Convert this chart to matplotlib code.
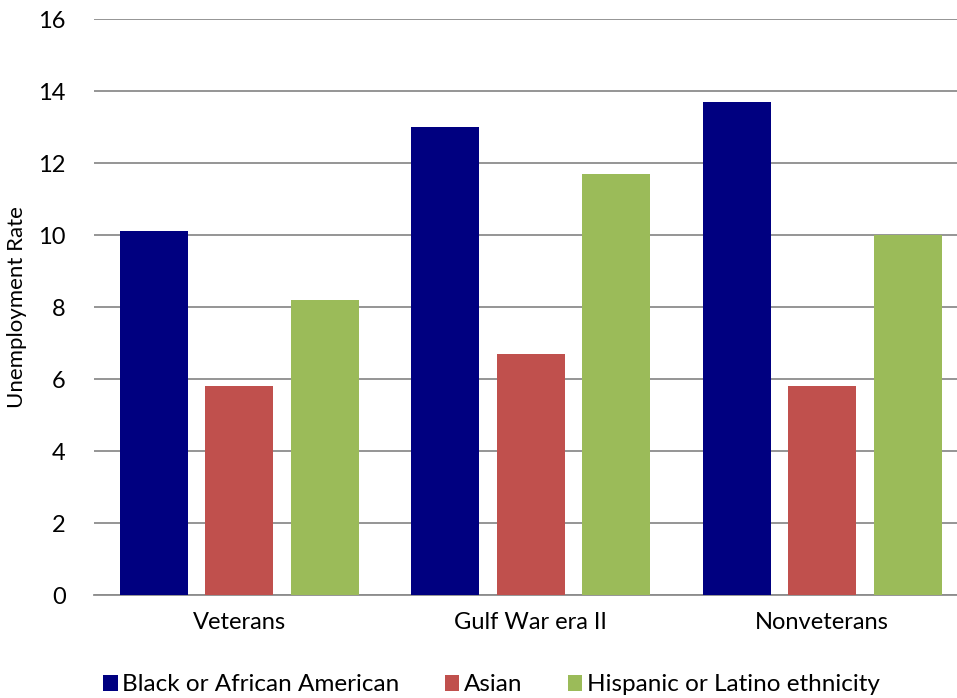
import matplotlib
matplotlib.use("Agg")
import matplotlib.pyplot as plt
import numpy as np

plt.rcParams['font.family'] = ['Lato', 'DejaVu Sans']

categories = ["Veterans", "Gulf War era II", "Nonveterans"]
series_names = ["Black or African American", "Asian", "Hispanic or Latino ethnicity"]
black = [10.1, 13.0, 13.7]
asian = [5.8, 6.7, 5.8]
hispanic = [8.2, 11.7, 10.0]
colors = ["#000080", "#C0504D", "#9BBB59"]

fig = plt.figure(figsize=(9.57, 6.98), dpi=100)
# plot area runs a little past the right edge of the figure, as in the source
ax = fig.add_axes([93.5 / 957, 103 / 698, 874.5 / 957, 576 / 698])

x = np.arange(len(categories))
width = 0.233
step = 0.293
for i, (vals, name) in enumerate(zip([black, asian, hispanic], series_names)):
    ax.bar(x + (i - 1) * step, vals, width, color=colors[i], label=name, zorder=3)

ax.set_xlim(-0.5, 2.5)
ax.set_ylim(0, 16)
ax.set_yticks(range(0, 17, 2))
ax.yaxis.grid(True, color="#8c8c8c", linewidth=1.3, zorder=0)
ax.set_xticks(x)
ax.set_xticklabels(categories)
for s in ["top", "right", "left"]:
    ax.spines[s].set_visible(False)
ax.spines["bottom"].set_color("#8c8c8c")
ax.spines["bottom"].set_linewidth(1.3)
ax.tick_params(axis="both", length=0, labelsize=17)
ax.tick_params(axis="y", pad=20)
ax.tick_params(axis="x", pad=12)
ax.set_ylabel("Unemployment Rate", fontsize=16, labelpad=8)

ax.legend(loc="upper center", bbox_to_anchor=(0.455, -0.1), ncol=3, frameon=False,
          fontsize=17.5, handlelength=0.6, handleheight=0.6, handletextpad=0.2,
          columnspacing=1.85)

fig.savefig("out.png", dpi=100)
